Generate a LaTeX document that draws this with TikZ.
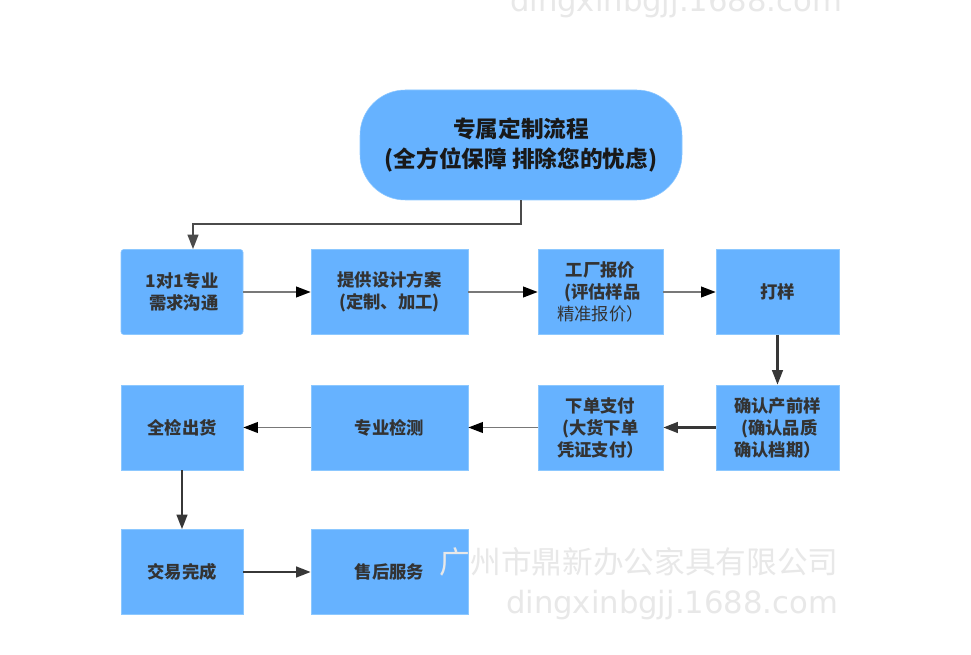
\documentclass[tikz,border=0pt]{standalone}
\usepackage{fontspec}
\setmainfont{Noto Sans CJK SC}
\newfontfamily\markfont{DejaVu Sans}
\usepackage{xcolor}
\usetikzlibrary{arrows.meta}
\definecolor{boxblue}{RGB}{102, 178, 255}
\definecolor{boxline}{RGB}{140, 200, 255}
\definecolor{textgray}{RGB}{51, 51, 51}
\definecolor{linegray}{RGB}{120, 120, 120}
\definecolor{linedark}{RGB}{55, 55, 55}
\definecolor{markgray}{RGB}{232, 232, 232}

\begin{document}
\begin{tikzpicture}[x=0.75pt, y=-0.75pt,
    stepbox/.style={draw=boxline, fill=boxblue, minimum height=63.75pt, inner sep=2pt,
        align=center, text=textgray, font=\fontsize{13}{16.5}\selectfont\bfseries},
    flow/.style={draw=linegray, line width=1.4pt, -{Triangle[length=11pt, width=8pt, color=black]}},
    flowdark/.style={draw=linedark, line width=1.8pt, -{Triangle[length=11pt, width=8pt]}},
    watermark/.style={text=markgray, anchor=base, inner sep=0pt}]
    \useasboundingbox (0,0) rectangle (971,655);
    \fill[white] (0,0) rectangle (971,655);

    % Title
    \node[draw=boxline, fill=boxblue, rounded corners=34pt, minimum width=241.5pt, minimum height=82.5pt,
        align=center, text=black!90, font=\fontsize{17}{23}\selectfont\bfseries] (title) at (521,145)
        {专属定制流程\\(全方位保障 排除您的忧虑)};

    % First row
    \node[stepbox, rounded corners=2pt, minimum width=91.5pt] (talk) at (182,292) {1对1专业\\\ 需求沟通};
    \node[stepbox, minimum width=117.75pt] (design) at (389.5,292) {提供设计方案\\(定制、加工)};
    \node[stepbox, minimum width=93.75pt] (quote) at (600.5,292)
        {工厂报价\\\ (评估样品\\{\mdseries 精准报价）}};
    \node[stepbox, minimum width=92.25pt] (sample) at (777.5,292) {打样};

    % Second row
    \node[stepbox, minimum width=92.25pt] (confirm) at (777.5,427.5) {确认产前样\\\ (确认品质\\确认档期）};
    \node[stepbox, minimum width=93.75pt] (pay) at (600.5,427.5) {下单支付\\(大货下单\\凭证支付）};
    \node[stepbox, minimum width=117.75pt] (check) at (389.5,427.5) {专业检测};
    \node[stepbox, minimum width=91.5pt] (ship) at (182,427.5) {全检出货};

    % Third row
    \node[stepbox, minimum width=91.5pt] (deal) at (182,572) {交易完成};
    \node[stepbox, minimum width=117.75pt] (service) at (389.5,572) {售后服务};

    % Watermarks
    \node[watermark, font=\markfont\fontsize{23}{23}\selectfont] (markurltop) at (676,12) {dingxinbgjj.1688.com};
    \node[watermark, font=\fontsize{23}{23}\selectfont] (markname) at (639,573) {广州市鼎新办公家具有限公司};
    \node[watermark, font=\markfont\fontsize{23}{23}\selectfont] (markurl) at (672,614) {dingxinbgjj.1688.com};

    % Arrows
    \draw[flowdark, draw=linedark!90] (title.south) -- ++(0,24) -| ([xshift=8.25pt]talk.north);
    \draw[flow] (talk) -- (design);
    \draw[flow] (design) -- (quote);
    \draw[flow] (quote) -- (sample);
    \draw[flowdark] (sample) -- (confirm);
    \draw[flowdark] (confirm) -- (pay);
    \draw[flow] (pay) -- (check);
    \draw[flow] (check) -- (ship);
    \draw[flowdark] (ship) -- (deal);
    \draw[flowdark] (deal) -- (service);
\end{tikzpicture}
\end{document}
